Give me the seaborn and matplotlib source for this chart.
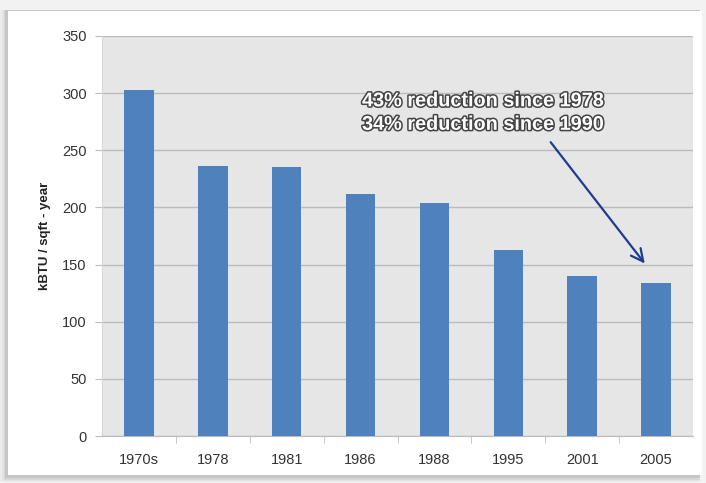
import pandas as pd
import matplotlib.pyplot as plt
import matplotlib.patches as mpatches
import matplotlib.patheffects as pe
import seaborn as sns

sns.set_style("white")
plt.rcParams['font.family'] = ['Liberation Sans', 'DejaVu Sans']

# Data
years = ["1970s", "1978", "1981", "1986", "1988", "1995", "2001", "2005"]
energy = [303, 236, 235, 212, 204, 163, 140, 134]
note_lines = ["43% reduction since 1978", "34% reduction since 1990"]

df = pd.DataFrame({"year": years, "energy": energy})

fig = plt.figure(figsize=(7.06, 4.83), dpi=100)
fig.patch.set_facecolor("#f2f2f2")

# white panel with soft shadow
for i, a in enumerate([0.05, 0.08, 0.12, 0.18]):
    d = (4 - i) * 0.0025
    fig.patches.append(mpatches.Rectangle((0.010 - d, 0.012 - d), 0.982 + d, 0.968 + d,
                                          transform=fig.transFigure, facecolor="#808080",
                                          alpha=a, edgecolor="none", zorder=-10))
fig.patches.append(mpatches.Rectangle((0.012, 0.016), 0.982, 0.962, transform=fig.transFigure,
                                      facecolor="white", edgecolor="none", zorder=-9))

ax = fig.add_axes([0.1445, 0.0973, 0.8371, 0.8282])
ax.set_zorder(1)
ax.set_facecolor("#e6e6e6")

sns.barplot(data=df, x="year", y="energy", color="#4f81bd", saturation=1, width=0.4,
            linewidth=0, ax=ax, zorder=3)

ax.set_ylim(0, 350)
ax.set_xlim(-0.5, len(years) - 0.5)
ax.set_yticks(range(0, 351, 50))
ax.yaxis.grid(True, color="#bcbcbc", linewidth=1)
ax.set_axisbelow(True)

for s in ["top", "right"]:
    ax.spines[s].set_visible(False)
ax.spines["left"].set_color("#d8d8d8")
ax.spines["bottom"].set_color("#bcbcbc")

ax.set_xlabel("")
ax.set_ylabel("kBTU / sqft - year", fontsize=9.5, fontweight="bold", color="#222222", labelpad=8)

ax.tick_params(axis="y", which="major", left=True, length=5, color="#bcbcbc", labelsize=10.5,
               labelcolor="#333333", pad=6)
ax.tick_params(axis="x", which="major", length=0, labelsize=10.5, labelcolor="#333333", pad=12)
ax.set_xticks([i + 0.5 for i in range(len(years) - 1)], minor=True)
ax.tick_params(axis="x", which="minor", bottom=True, length=5, color="#bcbcbc")

# annotation
ax.text(3.02, 283, "\n".join(note_lines), fontsize=14.3, fontweight="bold", color="white",
        va="center", ha="left", linespacing=1.3, zorder=6,
        path_effects=[pe.withStroke(linewidth=2.2, foreground="#444444")])
ax.annotate("", xy=(6.87, 149), xytext=(5.55, 259),
            arrowprops=dict(arrowstyle="->", color="#1f3d8f", lw=1.6, mutation_scale=22), zorder=6)

plt.savefig("out.png", dpi=100, facecolor=fig.get_facecolor())
